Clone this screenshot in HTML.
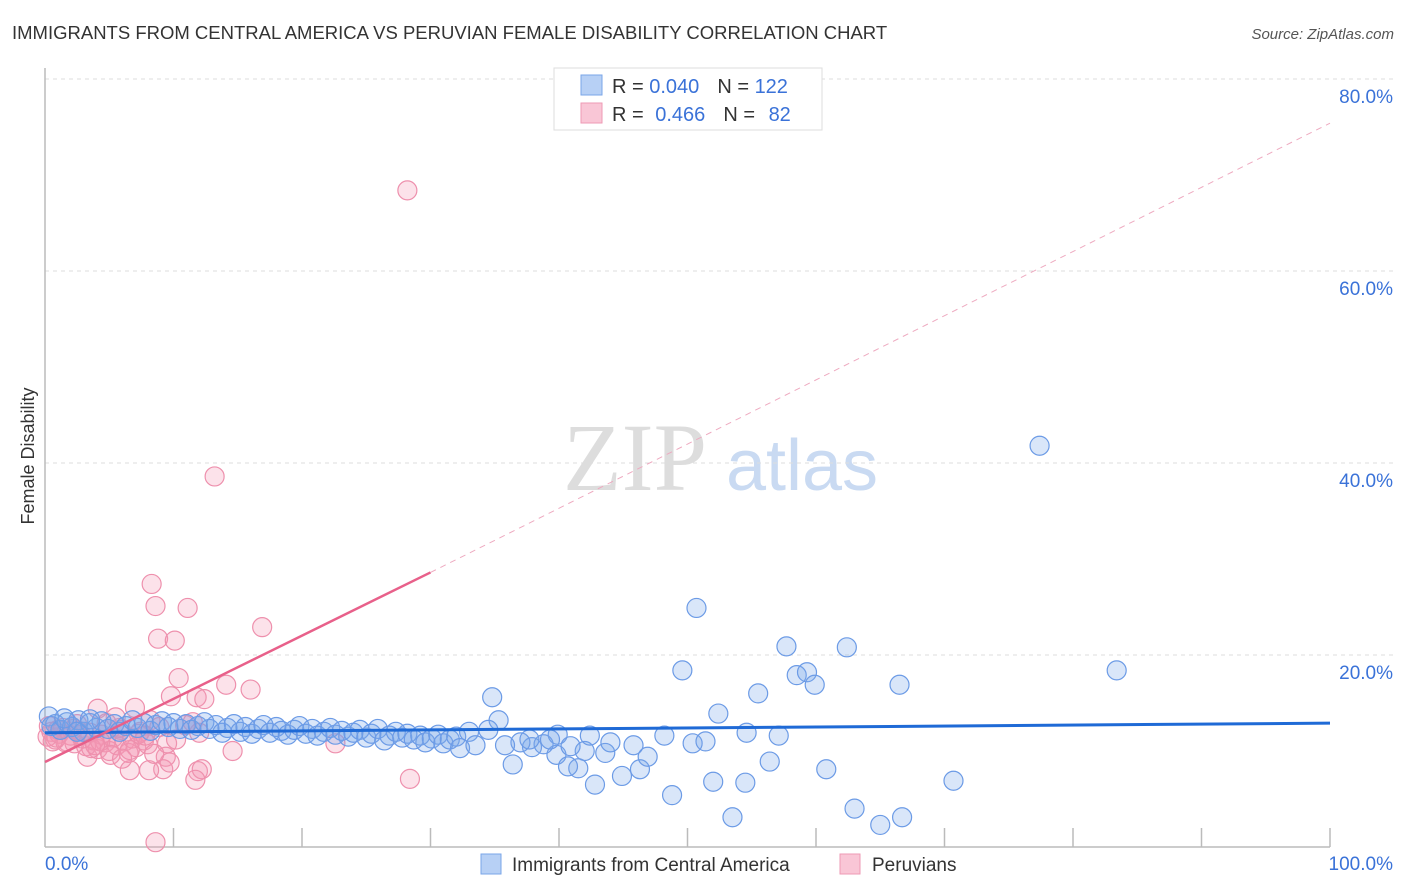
<!DOCTYPE html>
<html><head><meta charset="utf-8"><style>
body{margin:0;background:#fff;font-family:"Liberation Sans",sans-serif}
svg{display:block}
</style></head><body>
<svg id="chart" width="1406" height="892" xmlns="http://www.w3.org/2000/svg">
<text x="12" y="39" font-size="18.5" fill="#333">IMMIGRANTS FROM CENTRAL AMERICA VS PERUVIAN FEMALE DISABILITY CORRELATION CHART</text>
<text x="1394" y="39" font-size="15" fill="#555" font-style="italic" text-anchor="end">Source: ZipAtlas.com</text>
<text transform="translate(34,456) rotate(-90)" font-size="18" fill="#333" text-anchor="middle">Female Disability</text>
<g>
<text x="635" y="490" font-size="96" font-family="Liberation Serif,serif" fill="#ddd" text-anchor="middle">ZIP</text>
<text x="802" y="490" font-size="72" fill="#c9daf2" text-anchor="middle">atlas</text>
</g>
<g id="grid"></g><g id="axes"></g><g id="marks"></g>
<g>
<rect x="554" y="68" width="268" height="62" fill="#fff" stroke="#ddd"/>
<rect x="581" y="75" width="21" height="20" fill="#b7d0f5" stroke="#7aa6e8"/>
<rect x="581" y="103" width="21" height="20" fill="#f9c6d6" stroke="#ee9ab4"/>
<text x="612" y="93" font-size="20" fill="#333">R = <tspan fill="#3a72d8">0.040</tspan><tspan dx="18">N = </tspan><tspan fill="#3a72d8">122</tspan></text>
<text x="612" y="121" font-size="20" fill="#333">R = <tspan fill="#3a72d8" dx="6">0.466</tspan><tspan dx="18">N = </tspan><tspan fill="#3a72d8" dx="8">82</tspan></text>
</g>
<g>
<rect x="481" y="854" width="20" height="20" fill="#b7d0f5" stroke="#7aa6e8"/>
<text x="512" y="871" font-size="19" fill="#333">Immigrants from Central America</text>
<rect x="840" y="854" width="20" height="20" fill="#f9c6d6" stroke="#ee9ab4"/>
<text x="872" y="871" font-size="19" fill="#333">Peruvians</text>
</g>
</svg>
<script>
const yTicks=[20,40,60,80];
const yTickLabels=["20.0%","40.0%","60.0%","80.0%"];
const xTickLabels=["0.0%","100.0%"];
const blueX=[0.3,0.8,1.2,1.7,2.1,2.6,3.0,3.5,4.0,4.4,4.9,5.4,5.8,6.3,6.8,7.2,7.7,8.2,8.6,9.1,9.6,10.0,10.5,11.0,11.4,11.9,12.4,12.8,13.3,13.8,14.2,14.7,15.2,15.6,16.1,16.6,17.0,17.5,18.0,18.4,18.9,19.4,19.8,20.3,20.8,21.2,21.7,22.2,22.6,23.1,23.6,24.0,24.5,25.0,25.4,25.9,26.4,26.8,27.3,27.8,28.2,28.7,29.2,29.6,30.1,30.6,31.0,31.5,32.0,33.0,0.5,1.5,2.5,3.5,
77.4,50.7,49.6,57.7,62.4,83.4,66.5,58.5,59.3,59.9,55.5,52.4,34.8,35.3,70.7,60.8,56.4,52.0,54.5,48.8,53.5,63.0,65.0,66.7,42.8,44.9,46.3,36.4,42.0,43.6,46.9,39.8,41.5,40.7,37.9,38.8,39.9,44.0,45.8,48.2,50.4,51.4,54.6,57.1,37.0,35.8,32.3,33.5,34.5,39.3,37.7,40.9,42.4];
const blueY=[13.6,12.8,12.2,13.0,12.5,13.2,12.0,12.9,12.4,13.1,12.3,12.8,12.0,12.6,13.2,12.4,12.9,12.1,12.7,13.1,12.5,12.9,12.3,12.8,12.2,12.6,13.0,12.3,12.7,11.9,12.4,12.8,12.0,12.5,11.8,12.3,12.7,11.9,12.5,12.1,11.7,12.2,12.6,11.8,12.3,11.6,12.0,12.4,11.7,12.1,11.5,11.9,12.2,11.4,11.8,12.3,11.1,11.6,12.0,11.4,11.8,11.2,11.6,10.9,11.3,11.7,10.8,11.2,11.5,12.0,12.6,13.4,12.0,13.3,
41.8,24.9,18.4,20.9,20.8,18.4,16.9,17.9,18.2,16.9,16.0,13.9,15.6,13.2,6.9,8.1,8.9,6.8,6.7,5.4,3.1,4.0,2.3,3.1,6.5,7.4,8.1,8.6,10.0,9.8,9.4,9.6,8.2,8.4,10.4,10.7,11.7,10.9,10.6,11.6,10.8,11.0,11.9,11.6,10.9,10.6,10.3,10.6,12.2,11.2,11.2,10.5,11.6];
const pinkX=[28.2,13.2,8.3,8.6,11.1,8.8,10.1,16.9,10.4,14.1,16.0,9.8,11.8,12.4,7.0,4.1,14.6,22.6,28.4,8.6,9.4,9.2,9.7,8.1,6.6,11.9,12.2,11.7,3.3,
0.2,0.5,0.8,1.1,1.4,1.7,2.0,2.3,2.6,2.9,3.2,3.5,3.8,4.1,4.4,4.7,5.0,5.3,5.6,5.9,6.2,6.5,6.8,7.1,7.4,7.7,8.0,0.3,0.9,1.6,2.2,2.8,3.6,4.3,5.1,5.8,6.6,7.3,8.2,8.9,9.5,10.2,10.9,11.5,12.0,4.8,5.5,6.0,7.8,8.5,2.5,1.0,3.9,0.6];
const pinkY=[68.4,38.6,27.4,25.1,24.9,21.7,21.5,22.9,17.6,16.9,16.4,15.7,15.6,15.4,14.5,14.4,10.0,10.8,7.1,0.5,9.4,8.1,8.8,8.0,8.0,7.9,8.1,7.0,9.4,
11.5,12.0,11.2,11.8,12.4,11.0,11.6,10.8,12.1,11.3,10.5,11.9,11.1,10.2,11.7,10.9,10.0,11.4,10.6,12.2,11.0,9.8,11.3,10.4,12.0,11.1,10.7,12.6,11.4,10.9,12.3,11.7,10.3,11.0,9.6,12.4,10.1,11.8,13.2,12.5,10.8,11.2,12.7,13.0,11.9,12.9,13.5,9.2,11.6,9.7,12.8,12.2,10.6,11.0];
const blueTrend=[11.9,12.9];
const pinkTrend=[8.85,28.6,75.4];
const NS='http://www.w3.org/2000/svg';
const X=v=>45+v*12.85, Y=v=>847-v*9.6;
function mk(tag,attrs,parent){const e=document.createElementNS(NS,tag);for(const k in attrs)e.setAttribute(k,attrs[k]);parent.appendChild(e);return e;}
const grid=document.getElementById('grid'),axes=document.getElementById('axes'),marks=document.getElementById('marks');
yTicks.forEach((t,i)=>{
 const l=mk('line',{x1:45,x2:1393,y1:Y(t),y2:Y(t),stroke:'#ddd','stroke-dasharray':'4,4'},grid);
 
 
 const tx=mk('text',{x:1393,y:Y(t)+24,'font-size':19,fill:'#3a72d8','text-anchor':'end'},axes);
 tx.textContent=yTickLabels[i];
 
 
});
mk('line',{x1:45,x2:1393,y1:79,y2:79,stroke:'#ddd','stroke-dasharray':'4,4'},grid);
const ax=mk('line',{x1:45,x2:45,y1:68,y2:847,stroke:'#bbb','stroke-width':1.5},axes);


const bx=mk('line',{x1:45,x2:1330,y1:847,y2:847,stroke:'#bbb','stroke-width':1.5},axes);


for(let i=1;i<=10;i++){const t=mk('line',{x1:X(i*10),x2:X(i*10),y1:828,y2:847,stroke:'#bbb','stroke-width':1.5},axes);
 
 }
[[45,'start'],[1393,'end']].forEach((p,i)=>{const t=mk('text',{x:p[0],y:870,'font-size':19,fill:'#3a72d8','text-anchor':p[1]},axes);t.textContent=xTickLabels[i];
 
 });
pinkX.forEach((x,i)=>{const c=mk('circle',{cx:X(x),cy:Y(pinkY[i]),r:9.5,fill:'rgba(244,150,180,0.28)',stroke:'#ee90ad','stroke-width':1.2},marks);
 
 });
blueX.forEach((x,i)=>{const c=mk('circle',{cx:X(x),cy:Y(blueY[i]),r:9.5,fill:'rgba(120,165,235,0.28)',stroke:'#6c9be6','stroke-width':1.2},marks);
 
 });
const bt=mk('line',{x1:X(0),y1:Y(blueTrend[0]),x2:X(100),y2:Y(blueTrend[1]),stroke:'#1f6ad6','stroke-width':3},marks);


const pt=mk('line',{x1:X(0),y1:Y(pinkTrend[0]),x2:X(30),y2:Y(pinkTrend[1]),stroke:'#e8608a','stroke-width':2.5},marks);


const pd=mk('line',{x1:X(30),y1:Y(pinkTrend[1]),x2:X(100),y2:Y(pinkTrend[2]),stroke:'#eeaac0','stroke-width':1,'stroke-dasharray':'6,5'},marks);


</script>
</body></html>
